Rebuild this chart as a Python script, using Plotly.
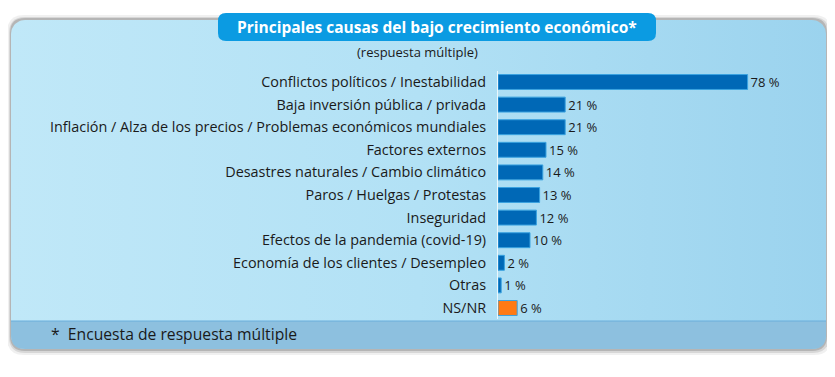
import numpy as np
import plotly.graph_objects as go

categories = [
    "Conflictos políticos / Inestabilidad",
    "Baja inversión pública / privada",
    "Inflación / Alza de los precios / Problemas económicos mundiales",
    "Factores externos",
    "Desastres naturales / Cambio climático",
    "Paros / Huelgas / Protestas",
    "Inseguridad",
    "Efectos de la pandemia (covid-19)",
    "Economía de los clientes / Desempleo",
    "Otras",
    "NS/NR",
]
values = [78, 21, 21, 15, 14, 13, 12, 10, 2, 1, 6]
title_text = "Principales causas del bajo crecimiento económico*"
subtitle_text = "(respuesta múltiple)"
footer_text = "*  Encuesta de respuesta múltiple"

# page body has an 8px margin: figure covers window pixels 8..835 / 8..377
OFF = 8
W, H = 835 - OFF, 377 - OFF
FONT = "Open Sans"
BLUE = "#0068b6"
ORANGE = "#ff7a14"
bar_colors = [ORANGE if c == "NS/NR" else BLUE for c in categories]


def rounded_poly(x0, y0, x1, y1, r, n=12):
    xs, ys = [], []
    corners = [(x1 - r, y0 + r, -90, 0), (x1 - r, y1 - r, 0, 90),
               (x0 + r, y1 - r, 90, 180), (x0 + r, y0 + r, 180, 270)]
    for cx, cy, a0, a1 in corners:
        t = np.radians(np.linspace(a0, a1, n))
        xs += list(cx + r * np.cos(t))
        ys += list(cy + r * np.sin(t))
    xs.append(xs[0]); ys.append(ys[0])
    return xs, ys


def rr_path(x0, y0, x1, y1, r):
    return (f"M {x0+r},{y0} L {x1-r},{y0} Q {x1},{y0} {x1},{y0+r} "
            f"L {x1},{y1-r} Q {x1},{y1} {x1-r},{y1} L {x0+r},{y1} "
            f"Q {x0},{y1} {x0},{y1-r} L {x0},{y0+r} Q {x0},{y0} {x0+r},{y0} Z")


def bottom_rr_path(x0, y0, x1, y1, r):
    return (f"M {x0},{y0} L {x1},{y0} L {x1},{y1-r} Q {x1},{y1} {x1-r},{y1} "
            f"L {x0+r},{y1} Q {x0},{y1} {x0},{y1-r} Z")


def fx(X):  # window pixel -> paper fraction
    return (X - OFF) / W


def fy(Y):
    return 1 - (Y - OFF) / H


fig = go.Figure()

# background panel with gradient (window-pixel axis)
px_, py_ = rounded_poly(11, 20, 826, 349, 14)
fig.add_trace(go.Scatter(
    x=px_, y=py_, mode="lines", fill="toself", line=dict(width=0),
    fillgradient=dict(type="horizontal",
                      colorscale=[[0, "#c0e8f8"], [0.5, "#b2e1f5"], [1, "#9bd3ee"]]),
    hoverinfo="skip", showlegend=False, xaxis="x", yaxis="y"))

# bars
fig.add_trace(go.Bar(
    x=values, y=categories, orientation="h",
    marker=dict(color=bar_colors, line=dict(color="#3aa3e0", width=1)),
    width=0.66,
    text=[f"{v} %" for v in values], textposition="outside",
    constraintext="none",
    textfont=dict(family=FONT, size=13, color="#1a1a1a"),
    cliponaxis=False, showlegend=False, hoverinfo="skip",
    xaxis="x2", yaxis="y2"))

shapes = [
    dict(type="path", path=rr_path(7, 15, 831, 355, 17), xref="x", yref="y",
         fillcolor="rgba(0,0,0,0.06)", line=dict(width=0), layer="below"),
    dict(type="path", path=rr_path(9, 17, 829, 353, 16), xref="x", yref="y",
         fillcolor="rgba(0,0,0,0.10)", line=dict(width=0), layer="below"),
    dict(type="path", path=rr_path(10, 18, 827, 351, 15), xref="x", yref="y",
         fillcolor="rgba(80,80,80,0.25)", line=dict(width=0), layer="below"),
    dict(type="path", path=bottom_rr_path(11, 321, 826, 349, 14), xref="x", yref="y",
         fillcolor="#8dc0df", line=dict(width=0), layer="above"),
    dict(type="line", x0=11, x1=826, y0=321, y1=321, xref="x", yref="y",
         line=dict(color="#6aaedb", width=1.2), layer="above"),
    dict(type="path", path=rr_path(218, 13, 656, 41, 8), xref="x", yref="y",
         fillcolor="#0b9be2", line=dict(width=0), layer="above"),
]

annotations = [
    dict(x=437, y=27, xref="x", yref="y", text=f"<b>{title_text}</b>", showarrow=False,
         font=dict(family=FONT, size=15.5, color="white"), xanchor="center", yanchor="middle"),
    dict(x=417, y=52, xref="x", yref="y", text=subtitle_text, showarrow=False,
         font=dict(family=FONT, size=13, color="#1a1a1a"), xanchor="center", yanchor="middle"),
    dict(x=49, y=334, xref="x", yref="y", text=footer_text, showarrow=False,
         font=dict(family=FONT, size=15.7, color="#1a1a1a"), xanchor="left", yanchor="middle"),
]

fig.update_layout(
    width=W, height=H,
    margin=dict(l=0, r=0, t=0, b=0),
    paper_bgcolor="white", plot_bgcolor="rgba(0,0,0,0)",
    shapes=shapes, annotations=annotations,
    xaxis=dict(domain=[0, 1], range=[OFF, 835], visible=False, fixedrange=True),
    yaxis=dict(domain=[0, 1], range=[377, OFF], visible=False, fixedrange=True),
    xaxis2=dict(domain=[fx(498), fx(800)], range=[0, 302 / 3.2], visible=False,
                anchor="y2", fixedrange=True),
    yaxis2=dict(domain=[fy(319.3), fy(70.7)], anchor="x2",
                categoryorder="array", categoryarray=categories,
                autorange="reversed", showgrid=False, zeroline=False,
                showline=True, linecolor="rgba(255,255,255,0.75)", linewidth=1,
                ticks="", ticklabelstandoff=8,
                tickfont=dict(family=FONT, size=14.4, color="#1a1a1a"),
                fixedrange=True),
)

fig.write_html("out.html")
